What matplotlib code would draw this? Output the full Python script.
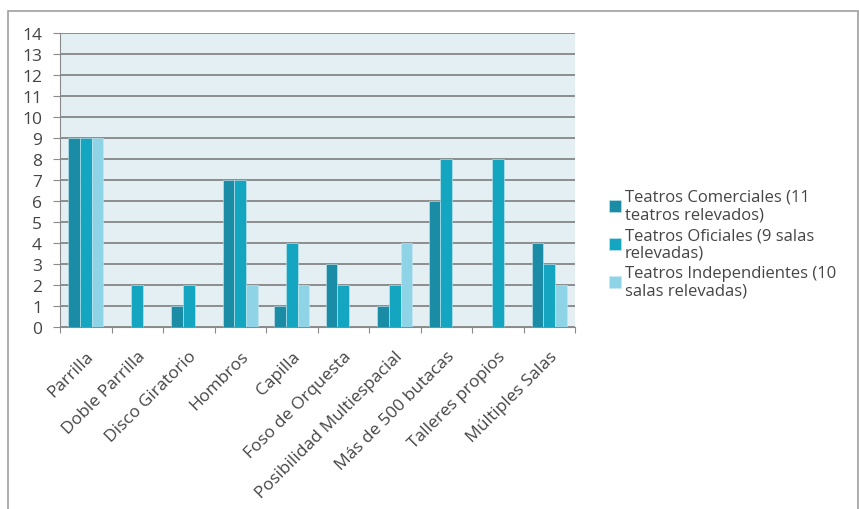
import numpy as np
import matplotlib.pyplot as plt
from matplotlib.patches import Rectangle

categorias = ["Parrilla", "Doble Parrilla", "Disco Giratorio", "Hombros", "Capilla",
              "Foso de Orquesta", "Posibilidad Multiespacial", "Más de 500 butacas",
              "Talleres propios", "Múltiples Salas"]
comerciales = [9, 0, 1, 7, 1, 3, 1, 6, 0, 4]
oficiales = [9, 2, 2, 7, 4, 2, 2, 8, 8, 3]
independientes = [9, 0, 0, 2, 2, 0, 4, 0, 0, 2]
series_nombres = ["Teatros Comerciales (11\nteatros relevados)",
                  "Teatros Oficiales (9 salas\nrelevadas)",
                  "Teatros Independientes (10\nsalas relevadas)"]
colores = ["#1a8ca6", "#14a5c0", "#8fd3e6"]

plt.rcParams['font.family'] = ['Open Sans', 'DejaVu Sans']

fig = plt.figure(figsize=(8.59, 5.10), dpi=100)
fig.patches.append(Rectangle((8 / 859, -0.01), 850 / 859, 1 - 12 / 510 + 0.01,
                             transform=fig.transFigure, fill=False,
                             edgecolor="#a0a0a0", linewidth=1.2))

ax = fig.add_axes([60 / 859, 1 - 328 / 510, 515 / 859, 294 / 510])
ax.set_facecolor("#e4eff3")

x = np.arange(len(categorias))
w = 0.227
for i, (vals, c, nombre) in enumerate(zip([comerciales, oficiales, independientes], colores, series_nombres)):
    ax.bar(x + (i - 1) * w, vals, w, color=c, label=nombre, zorder=3,
           edgecolor="#c8e8f0", linewidth=0.4)

ax.set_ylim(0, 14)
ax.set_yticks(range(0, 15))
ax.set_xlim(-0.5, len(categorias) - 0.5)
ax.grid(axis='y', color="#7d7d7d", linewidth=1.2, zorder=1)
for s in ["top", "right"]:
    ax.spines[s].set_visible(False)
ax.spines["left"].set_color("#8a8a8a")
ax.spines["bottom"].set_color("#8a8a8a")

ax.set_xticks(np.arange(-0.5, len(categorias)), minor=False)
ax.set_xticklabels([])
ax.tick_params(axis='x', length=4, color="#8a8a8a")
ax.set_xticks(x, minor=True)
ax.set_xticklabels(categorias, minor=True, rotation=45, ha='right',
                   rotation_mode='anchor', fontsize=12.5, color="#454545")
ax.tick_params(axis='x', which='minor', length=0, pad=15)
ax.tick_params(axis='y', length=5, pad=8, color="#8a8a8a", labelsize=12.5, labelcolor="#454545")

leg = fig.legend(loc='upper left', bbox_to_anchor=(594 / 859, 1 - 175 / 510), frameon=False,
                 fontsize=12, handlelength=0.7, handleheight=0.7, handletextpad=0.25,
                 labelspacing=0.3, labelcolor="#454545")
for t in leg.get_texts():
    t.set_linespacing(1.1)

fig.savefig("out.png", dpi=100, facecolor="white")
